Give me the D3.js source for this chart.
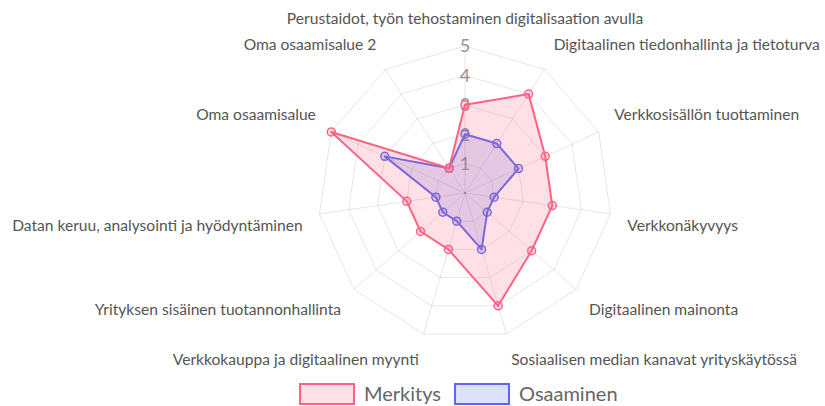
<!DOCTYPE html>
<html>
<head>
<meta charset="utf-8">
<script src="https://cdn.jsdelivr.net/npm/d3@7"></script>
<style>
  html, body { margin: 0; padding: 0; background: #fff; }
  svg { display: block; font-family: Lato, "Open Sans", sans-serif; }
</style>
</head>
<body>
<div id="chart"></div>
<script>
var categories = [
  'Perustaidot, työn tehostaminen digitalisaation avulla',
  'Digitaalinen tiedonhallinta ja tietoturva',
  'Verkkosisällön tuottaminen',
  'Verkkonäkyvyys',
  'Digitaalinen mainonta',
  'Sosiaalisen median kanavat yrityskäytössä',
  'Verkkokauppa ja digitaalinen myynti',
  'Yrityksen sisäinen tuotannonhallinta',
  'Datan keruu, analysointi ja hyödyntäminen',
  'Oma osaamisalue',
  'Oma osaamisalue 2'
];
var merkitys = [3, 4, 3, 3, 3, 4, 2, 2, 2, 5, 1];
var osaaminen = [2, 2, 2, 1, 1, 2, 1, 1, 1, 3, 1];
var tickValues = [1, 2, 3, 4, 5];

var series = [
  { name: 'Osaaminen', values: osaaminen, stroke: 'rgb(92, 104, 240)', fill: 'rgba(92, 104, 240, 0.2)' },
  { name: 'Merkitys', values: merkitys, stroke: 'rgb(255, 99, 132)', fill: 'rgba(255, 99, 132, 0.2)' }
];

var width = 825, height = 406,
    cx = 465, cy = 193,
    maxR = 147,
    labelPad = 17;

var svg = d3.select('#chart').append('svg')
    .attr('width', width)
    .attr('height', height);

var r = d3.scaleLinear().domain([0, 5]).range([0, maxR]);
var angle = d3.scaleLinear().domain([0, categories.length]).range([0, 2 * Math.PI]);

function pt(i, v) {
  var a = angle(i);
  return [cx + Math.sin(a) * r(v), cy - Math.cos(a) * r(v)];
}

var g = svg.append('g');

// grid polygons
g.selectAll('.grid')
  .data(tickValues)
  .enter()
  .append('polygon')
    .attr('class', 'grid')
    .attr('points', function (t) {
      return categories.map(function (c, i) { return pt(i, t).join(','); }).join(' ');
    })
    .style('fill', 'none')
    .style('stroke', 'rgba(0,0,0,0.1)')
    .style('stroke-width', 1);

// angle lines
g.selectAll('.spoke')
  .data(categories)
  .enter()
  .append('line')
    .attr('x1', cx).attr('y1', cy)
    .attr('x2', function (d, i) { return pt(i, 5)[0]; })
    .attr('y2', function (d, i) { return pt(i, 5)[1]; })
    .style('stroke', 'rgba(0,0,0,0.1)')
    .style('stroke-width', 1);

// tick labels
g.selectAll('.tick')
  .data(tickValues)
  .enter()
  .append('text')
    .text(function (d) { return d; })
    .attr('x', cx)
    .attr('y', function (d) { return cy - r(d); })
    .attr('dy', '0.35em')
    .style('text-anchor', 'middle')
    .style('font-size', '18px')
    .style('fill', 'rgba(110,110,110,0.75)');

g.append('circle')
    .attr('cx', cx).attr('cy', cy).attr('r', 1)
    .style('fill', 'rgba(110,110,110,0.6)');

// point labels
g.selectAll('.plabel')
  .data(categories)
  .enter()
  .append('text')
    .text(function (d) { return d; })
    .each(function (d, i) {
      var a = angle(i) * 180 / Math.PI;
      var rr = maxR + labelPad;
      var x = cx + Math.sin(angle(i)) * rr;
      var y = cy - Math.cos(angle(i)) * rr;
      var anchor = (Math.abs(a) < 1 || Math.abs(a - 180) < 1) ? 'middle' : (a < 180 ? 'start' : 'end');
      // above for top half, below for bottom half
      var dy = (a < 90 || a > 270) ? '-0.3em' : '0.95em';
      d3.select(this)
        .attr('x', x)
        .attr('y', y)
        .attr('dy', dy)
        .style('text-anchor', anchor);
    })
    .style('font-size', '15.6px')
    .style('fill', '#555');

// datasets
var line = d3.lineRadial()
    .angle(function (d, i) { return angle(i); })
    .radius(function (d) { return r(d); })
    .curve(d3.curveLinearClosed);

var sets = g.selectAll('.set')
  .data(series)
  .enter()
  .append('g')
    .attr('transform', 'translate(' + cx + ',' + cy + ')');

sets.append('path')
    .attr('d', function (d) { return line(d.values); })
    .style('fill', function (d) { return d.fill; })
    .style('stroke', function (d) { return d.stroke; })
    .style('stroke-width', 2)
    .style('stroke-linejoin', 'round');

sets.selectAll('circle')
  .data(function (d) { return d.values.map(function (v) { return { v: v, s: d }; }); })
  .enter()
  .append('circle')
    .attr('cx', function (d, i) { return Math.sin(angle(i)) * r(d.v); })
    .attr('cy', function (d, i) { return -Math.cos(angle(i)) * r(d.v); })
    .attr('r', 4)
    .style('fill', function (d) { return d.s.fill; })
    .style('stroke', function (d) { return d.s.stroke; })
    .style('stroke-width', 1.5);

// legend
var legendItems = [series[1], series[0]];
var legend = svg.append('g');
var lx = 300;
legendItems.forEach(function (s) {
  var item = legend.append('g');
  item.append('rect')
    .attr('x', lx).attr('y', 384)
    .attr('width', 54).attr('height', 20)
    .style('fill', s.fill)
    .style('stroke', s.stroke)
    .style('stroke-width', 2);
  var t = item.append('text')
    .text(s.name)
    .attr('x', lx + 64)
    .attr('y', 394)
    .attr('dy', '0.35em')
    .style('font-size', '20px')
    .style('fill', '#666');
  lx += 64 + t.node().getComputedTextLength() + 14;
});
</script>
</body>
</html>
